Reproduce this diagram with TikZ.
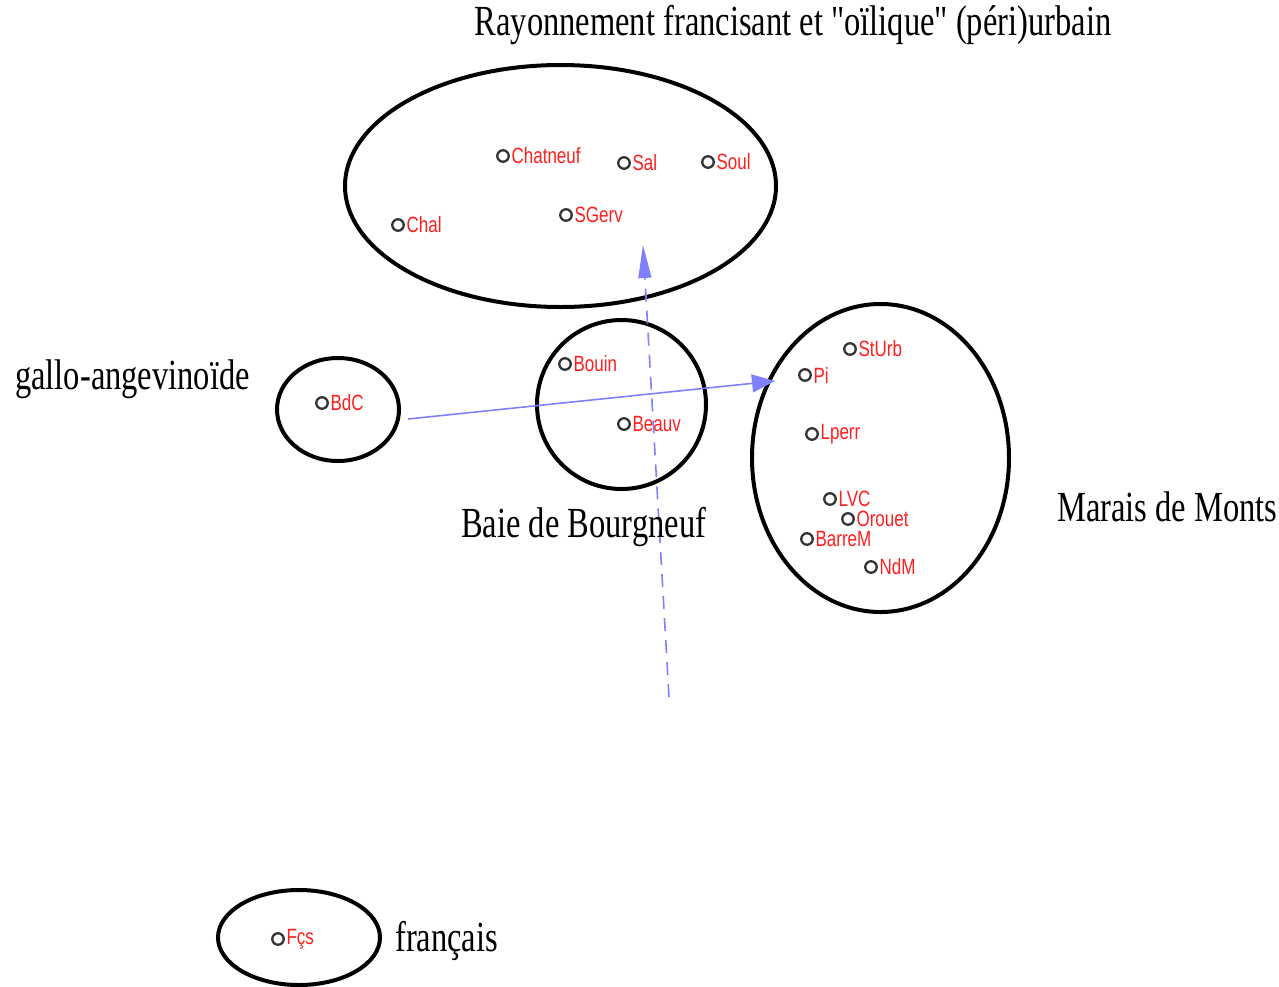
\documentclass[tikz,border=0pt]{standalone}
\usepackage{fontspec}
\setmainfont{Liberation Serif}[Ligatures=TeXOff]
\newfontfamily\lsans{Liberation Sans}
\usetikzlibrary{arrows.meta}
\definecolor{lblred}{RGB}{255,30,30}
\definecolor{arrblue}{RGB}{128,128,255}
\tikzset{
  pt/.style={circle, draw=black!80, line width=2.3pt, minimum size=11.5pt, inner sep=0pt},
  plbl/.style={anchor=west, text=lblred, font=\lsans\fontsize{17}{20}\selectfont, inner sep=0pt, yscale=1.3},
  big/.style={font=\fontsize{32.5}{38}\selectfont, inner sep=0pt, yscale=1.32},
  arr/.style={draw=arrblue, line width=1.6pt},
  grp/.style={line width=4pt},
}
\begin{document}
\begin{tikzpicture}[x=1pt,y=-1pt]
\useasboundingbox (0,0) rectangle (1279,986);
% groups
\draw[grp] (560.5,186) ellipse [x radius=215.5, y radius=121];
\draw[grp] (338,409.5) ellipse [x radius=61, y radius=51.5];
\draw[grp] (621.5,404.5) ellipse [x radius=84.5, y radius=84.5];
\draw[grp] (880.5,458) ellipse [x radius=128.5, y radius=154];
\draw[grp] (299,937.5) ellipse [x radius=81, y radius=47.5];
% points
\foreach \n/\x/\y/\t in {chatneuf/503/156/Chatneuf, sal/624/163/Sal, soul/708/162/Soul, chal/398/225/Chal, sgerv/566/215/SGerv, bouin/565/364/Bouin, beauv/624/424/Beauv, bdc/322/403/BdC, sturb/850/349/StUrb, pi/805/375/Pi, lperr/812/434/Lperr, lvc/830/499/LVC, orouet/848/519/Orouet, barrem/807/539/BarreM, ndm/871/567/NdM, fcs/278/939/Fçs}{
  \node[pt] (\n) at (\x,\y) {};
  \node[plbl] (\n-l) at ([xshift=1.5pt]\n.east) {\t};
}
% arrows
\coordinate (a1s) at (408,419);
\coordinate (a1e) at (775,381);
\coordinate (a2s) at (669,697);
\coordinate (a2e) at (643,245);
\draw[arr, -{Triangle[length=23pt,width=18pt]}] (a1s) -- (a1e);
\draw[arr, dash pattern=on 13pt off 9pt, -{Triangle[length=33pt,width=13pt]}] (a2s) -- (a2e);
% labels
\node[big] (t1) at (793,25) {Rayonnement francisant et "oïlique" (péri)urbain};
\node[big, anchor=west] (t2) at (15,379) {gallo-angevinoïde};
\node[big, anchor=west] (t3) at (461,527) {Baie de Bourgneuf};
\node[big, anchor=west] (t4) at (1057,507) {Marais de Monts};
\node[big, anchor=west] (t5) at (395,941) {français};
\end{tikzpicture}
\end{document}
